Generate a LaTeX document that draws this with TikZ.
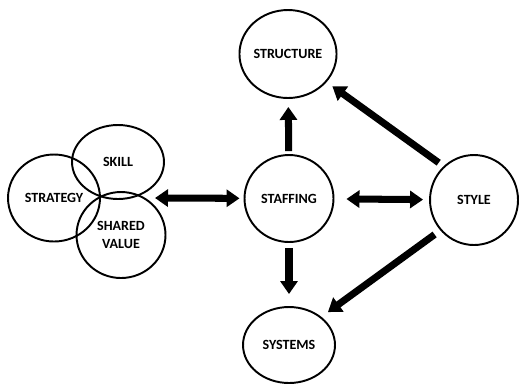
\documentclass[tikz,border=0pt]{standalone}
\usepackage{fontspec}
\setmainfont{Carlito}
\usetikzlibrary{arrows.meta}
\usetikzlibrary{shapes.geometric}

\begin{document}
\begin{tikzpicture}[x=0.02cm, y=-0.02cm]
            \tikzstyle{element} = [draw, ellipse, line width=1.1pt, inner sep=0pt, font=\fontsize{8}{10.2}\selectfont\bfseries, align=center]
            \tikzstyle{link} = [line width=4pt, -{Triangle[length=0.26cm, width=0.34cm]}]
            \tikzstyle{twoway} = [line width=4pt, {Triangle[length=0.26cm, width=0.34cm]}-{Triangle[length=0.26cm, width=0.34cm]}]
            \useasboundingbox (0, 0) rectangle (519, 383);
            % the 7s
            \node[element, minimum width=1.82cm, minimum height=1.76cm] (structure) at (288, 54) {STRUCTURE};
            \node[element, minimum width=1.78cm, minimum height=1.74cm] (staffing) at (289, 198.5) {STAFFING};
            \node[element, minimum width=1.76cm, minimum height=1.8cm] (style) at (474, 200) {STYLE};
            \node[element, minimum width=1.84cm, minimum height=1.52cm] (systems) at (289, 345) {SYSTEMS};
            \node[element, minimum width=1.84cm, minimum height=1.48cm] (skill) at (118, 162) {SKILL};
            \node[element, minimum width=1.84cm, minimum height=1.74cm] (strategy) at (54, 198) {STRATEGY};
            \node[element, minimum width=1.78cm, minimum height=1.72cm] (shared) at (121, 235) {SHARED\\VALUE};
            \coordinate (cluster) at (155, 198);
            % connectors
            \draw[twoway, shorten >=0.08cm] (cluster) -- (staffing);
            \draw[twoway, shorten <=0.24cm, shorten >=0.12cm] (staffing) -- (style);
            \draw[link, shorten <=0.06cm, shorten >=0.16cm] (staffing) -- (structure);
            \draw[link, shorten <=0.1cm, shorten >=0.24cm] (staffing) -- (systems);
            \draw[link, shorten <=0.12cm, shorten >=0.14cm] (style.132) -- (structure.-36);
            \draw[link, shorten <=0.14cm, shorten >=0.16cm] (style.222) -- (systems.41);
        \end{tikzpicture}
\end{document}
